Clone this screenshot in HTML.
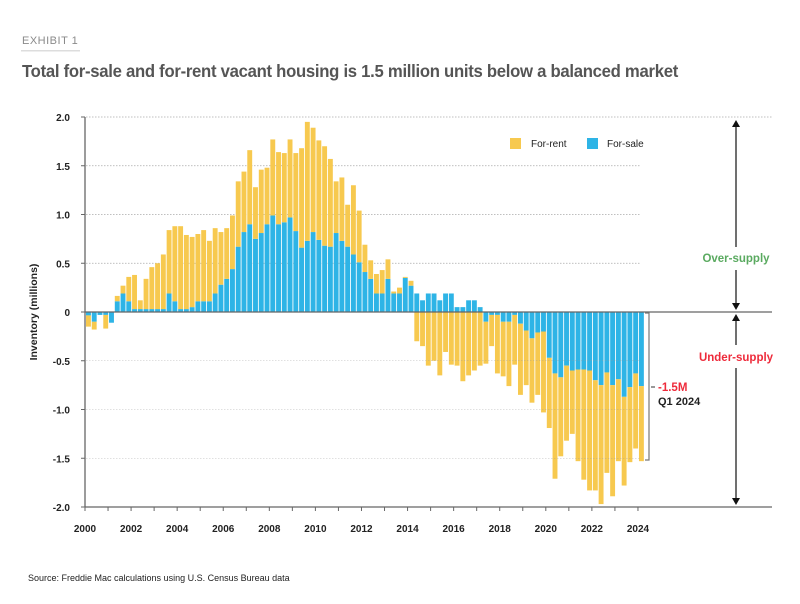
<!DOCTYPE html>
<html><head><meta charset="utf-8"><style>
body{margin:0;background:#fff;width:800px;height:599px;overflow:hidden;font-family:"Liberation Sans",sans-serif}
</style></head><body>
<svg id="c" width="800" height="599" xmlns="http://www.w3.org/2000/svg" font-family="Liberation Sans, sans-serif">
<text x="22" y="44" font-size="11" fill="#8a8a8a" letter-spacing="0.5">EXHIBIT 1</text>
<rect x="21" y="50" width="59" height="1.5" fill="#ddd"/>
<text x="22" y="77" font-size="17.5" font-weight="bold" fill="#555" letter-spacing="-0.3" textLength="656" lengthAdjust="spacingAndGlyphs">Total for-sale and for-rent vacant housing is 1.5 million units below a balanced market</text>
<g id="grid"></g>
<g id="bars"></g>
<g id="grid2"></g>
<g id="axes"></g>
<rect x="510" y="138" width="11" height="11" fill="#F7C94F"/>
<text x="531" y="147" font-size="10" fill="#222">For-rent</text>
<rect x="587" y="138" width="11" height="11" fill="#2EB4E6"/>
<text x="607" y="147" font-size="10" fill="#222">For-sale</text>
<text transform="translate(37,312) rotate(-90)" text-anchor="middle" font-size="10.5" font-weight="bold" fill="#222">Inventory (millions)</text>
<g stroke="#111" stroke-width="1.2">
<line x1="736" y1="124" x2="736" y2="247"/><line x1="736" y1="270" x2="736" y2="305"/>
<line x1="736" y1="320" x2="736" y2="345"/><line x1="736" y1="368" x2="736" y2="500"/>
</g>
<g fill="#111">
<path d="M732,127 L736,120 L740,127Z"/><path d="M732,303 L736,310 L740,303Z"/>
<path d="M732,321 L736,314 L740,321Z"/><path d="M732,498 L736,505 L740,498Z"/>
</g>
<text x="736" y="262" text-anchor="middle" font-size="11.5" font-weight="bold" fill="#5aaa60">Over-supply</text>
<text x="736" y="361" text-anchor="middle" font-size="11.5" font-weight="bold" fill="#ee2b3b">Under-supply</text>
<path d="M645,313 H649 V460 H645" fill="none" stroke="#777" stroke-width="1.2"/>
<line x1="651" y1="387" x2="655" y2="387" stroke="#333"/>
<text x="658" y="391" font-size="11.5" font-weight="bold" fill="#ee2b3b">-1.5M</text>
<text x="658" y="405" font-size="11" font-weight="bold" fill="#222">Q1 2024</text>
<text x="28" y="581" font-size="9" fill="#222">Source: Freddie Mac calculations using U.S. Census Bureau data</text>
</svg>
<script>
var NS="http://www.w3.org/2000/svg";
function el(p,t,a,txt){var e=document.createElementNS(NS,t);for(var k in a)e.setAttribute(k,a[k]);if(txt!==undefined)e.textContent=txt;document.getElementById(p).appendChild(e);return e;}
var Y=function(v){return 312-v*97.5;};
var d=[[-.035,-.15],[-.1,-.18],[-.03,-.03],[-.03,-.17],[-.11,-.11],[.11,.165],[.19,.27],[.11,.36],[.03,.38],[.03,.12],[.03,.34],[.03,.46],[.03,.5],[.03,.59],[.19,.84],[.11,.88],[.03,.88],[.03,.79],[.05,.77],[.11,.8],[.11,.84],[.11,.73],[.19,.86],[.28,.82],[.34,.86],[.44,.99],[.67,1.34],[.82,1.44],[.9,1.66],[.75,1.28],[.81,1.46],[.9,1.48],[.99,1.77],[.9,1.64],[.92,1.63],[.97,1.77],[.83,1.63],[.66,1.68],[.73,1.95],[.82,1.89],[.74,1.76],[.68,1.7],[.67,1.57],[.81,1.34],[.73,1.38],[.67,1.1],[.59,1.3],[.51,1.04],[.41,.69],[.34,.53],[.19,.39],[.19,.43],[.34,.54],[.19,.21],[.19,.25],[.35,.36],[.27,.32],[.19,-.30],[.12,-.35],[.19,-.55],[.19,-.5],[.12,-.65],[.19,-.41],[.19,-.54],[.05,-.55],[.05,-.71],[.12,-.65],[.12,-.6],[.05,-.55],[-.1,-.53],[-.03,-.35],[-.03,-.63],[-.1,-.66],[-.1,-.76],[-.03,-.54],[-.12,-.85],[-.19,-.75],[-.27,-.93],[-.21,-.85],[-.2,-1.03],[-.47,-1.19],[-.63,-1.71],[-.67,-1.48],[-.55,-1.32],[-.6,-1.25],[-.59,-1.53],[-.59,-1.72],[-.6,-1.83],[-.7,-1.83],[-.75,-1.97],[-.62,-1.65],[-.75,-1.89],[-.69,-1.53],[-.87,-1.78],[-.77,-1.54],[-.63,-1.4],[-.76,-1.53]];
[2,1.5,1,.5].forEach(function(v){el("grid","line",{x1:86,x2:v==2?772:641,y1:Y(v),y2:Y(v),stroke:"#aaa","stroke-width":0.7,"stroke-dasharray":"1.5,1.5"});});
[-.5,-1,-1.5].forEach(function(v){el("grid2","line",{x1:86,x2:641,y1:Y(v),y2:Y(v),stroke:"#999","stroke-width":0.6,"stroke-dasharray":"1.5,1.5",opacity:0.6});});
function rect(x,a,b,c){var y1=Math.min(Y(a),Y(b)),y2=Math.max(Y(a),Y(b));if(y2-y1<0.3)return;el("bars","rect",{x:x,y:y1,width:4.9,height:y2-y1,fill:c});}
d.forEach(function(p,i){var x=86+5.76*i,b=p[0],t=p[1];
 if(b>0&&t<0){rect(x,0,b,"#2EB4E6");rect(x,0,t,"#F7C94F");}
 else{rect(x,0,b,"#2EB4E6");rect(x,b,t,"#F7C94F");}});
el("axes","line",{x1:85,x2:772,y1:312,y2:312,stroke:"#666","stroke-width":1.3});
el("axes","line",{x1:85,x2:772,y1:507,y2:507,stroke:"#666","stroke-width":1.3});
el("axes","line",{x1:85,x2:85,y1:117,y2:507,stroke:"#666","stroke-width":1.3});
[2,1.5,1,.5,0,-.5,-1,-1.5,-2].forEach(function(v){el("axes","line",{x1:81,x2:85,y1:Y(v),y2:Y(v),stroke:"#666"});
 el("axes","text",{x:70,y:Y(v)+4,"text-anchor":"end","font-size":10,"font-weight":"bold",fill:"#222"},v==0?"0":v.toFixed(1));});
for(var k=0;k<=24;k++){var x=85+23.04*k;el("axes","line",{x1:x,x2:x,y1:507,y2:511,stroke:"#666"});
 if(k%2==0)el("axes","text",{x:x,y:532,"text-anchor":"middle","font-size":10,"font-weight":"bold",fill:"#222"},String(2000+k));}
</script>
</body></html>
